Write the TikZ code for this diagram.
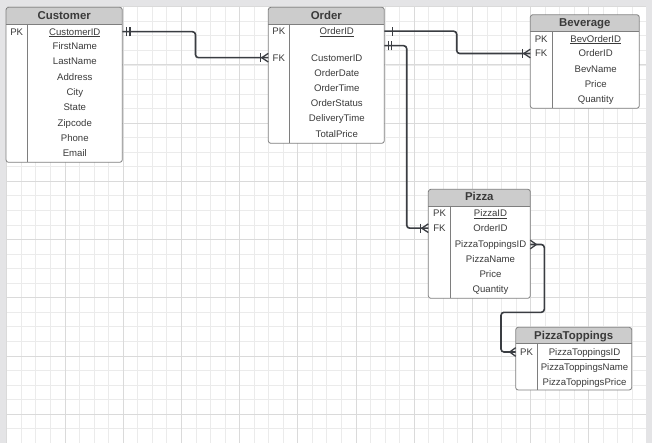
\documentclass[tikz,border=0pt]{standalone}
\usepackage{fontspec}
\setmainfont{Liberation Sans}
\definecolor{minorc}{HTML}{EBEBEB}
\definecolor{majorc}{HTML}{DADADA}
\definecolor{bandc}{HTML}{E4E4E6}
\definecolor{hdrc}{HTML}{CCCCCC}
\definecolor{bordc}{HTML}{7E7E7E}
\definecolor{txtc}{HTML}{3A3A3A}
\definecolor{linec}{HTML}{3A3D42}
\tikzset{
  tblbox/.style={draw=none, fill=white, inner sep=0pt, outer sep=0pt, anchor=north west},
  fld/.style={inner sep=0pt, text height=6.9pt, text depth=0pt, text=txtc, font=\fontsize{9.6}{11}\selectfont},
  ttl/.style={inner sep=0pt, text height=8.2pt, text depth=0pt, text=txtc, font=\bfseries\fontsize{11.4}{13}\selectfont},
  conn/.style={draw=linec, line width=1.6pt, rounded corners=3pt},
  ermark/.style={draw=linec, line width=1.3pt},
  tblline/.style={draw=bordc, line width=0.8pt},
  crowfoot/.pic={\draw[ermark] (-#1,0) -- (0,-4.3) (-#1,0) -- (0,4.3);},
  onebar/.pic={\draw[ermark] (-#1,-4.6) -- (-#1,4.6);}
}
% #1 name, #2 x1, #3 y1, #4 x2, #5 y2, #6 header bottom, #7 divider x, #8 width, #9 height
\newcommand\ertable[9]{%
  \node[tblbox, minimum width=#8pt, minimum height=#9pt] (#1) at (#2,#3) {};
  \begin{scope}
    \clip[rounded corners=2.5pt] (#2,#3) rectangle (#4,#5);
    \fill[hdrc] (#2,#3) rectangle (#4,#6);
  \end{scope}
  \draw[tblline] (#2,#6) -- (#4,#6) (#7,#6) -- (#7,#5);
  \draw[tblline, rounded corners=2.5pt] (#2,#3) rectangle (#4,#5);
}
\begin{document}
\begin{tikzpicture}[x=1pt,y=-1pt]
\useasboundingbox (0,0) rectangle (652,443);
% background and grid
\fill[bandc] (0,0) rectangle (652,443);
\fill[white] (6.7,6.7) rectangle (645.5,443);
\foreach \i in {0,...,43} {\draw[minorc, line width=0.7pt] ({6.7+\i*14.55},6.7) -- ({6.7+\i*14.55},443);}
\foreach \j in {0,...,30} {\draw[minorc, line width=0.7pt] (6.7,{6.7+\j*14.55}) -- (645.5,{6.7+\j*14.55});}
\foreach \i in {0,...,10} {\draw[majorc, line width=0.8pt] ({6.7+\i*58.2},6.7) -- ({6.7+\i*58.2},443);}
\foreach \j in {0,...,7} {\draw[majorc, line width=0.8pt] (6.7,{6.7+\j*58.2}) -- (645.5,{6.7+\j*58.2});}

% Customer
\ertable{cust}{6}{7.3}{122.3}{162.3}{24}{27.3}{116.3}{155}
\node[ttl] (custT) at (64.2,15.2) {Customer};
\node[fld] (cpk) at (16.7,31.7) {PK};
\node[fld] (cid) at (74.8,31.7) {\underline{CustomerID}};
\node[fld] (cfn) at (74.8,46.2) {FirstName};
\node[fld] (cln) at (74.8,61.5) {LastName};
\node[fld] (cad) at (74.8,76.8) {Address};
\node[fld] (cci) at (74.8,92) {City};
\node[fld] (cst) at (74.8,107.3) {State};
\node[fld] (czi) at (74.8,122.6) {Zipcode};
\node[fld] (cph) at (74.8,137.8) {Phone};
\node[fld] (cem) at (74.8,153) {Email};

% Order
\ertable{ord}{268.3}{7.3}{384.3}{143.3}{24}{289.3}{116}{136}
\node[ttl] (ordT) at (326.3,15.2) {Order};
\node[fld] (opk) at (278.8,31.2) {PK};
\node[fld] (oid) at (336.8,31.2) {\underline{OrderID}};
\coordinate (oblank) at (336.8,45.7);
\node[fld] (ofk) at (278.8,57.7) {FK};
\node[fld] (ocid) at (336.8,57.7) {CustomerID};
\node[fld] (odt) at (336.8,72.6) {OrderDate};
\node[fld] (otm) at (336.8,87.8) {OrderTime};
\node[fld] (ost) at (336.8,103.2) {OrderStatus};
\node[fld] (odl) at (336.8,118.5) {DeliveryTime};
\node[fld] (otp) at (336.8,133.6) {TotalPrice};

% Beverage
\ertable{bev}{530.3}{14.7}{639.3}{108.3}{31.7}{552}{109}{93.6}
\node[ttl] (bevT) at (584.8,22.4) {Beverage};
\node[fld] (bpk) at (541.2,38.7) {PK};
\node[fld] (bid) at (595.7,38.7) {\underline{BevOrderID}};
\node[fld] (bfk) at (541.2,53.5) {FK};
\node[fld] (bof) at (595.7,53.5) {OrderID};
\node[fld] (bnm) at (595.7,68.7) {BevName};
\node[fld] (bpr) at (595.7,83.7) {Price};
\node[fld] (bqt) at (595.7,98.7) {Quantity};

% Pizza
\ertable{piz}{428.3}{189.3}{530.3}{298.3}{206}{450.7}{102}{109}
\node[ttl] (pizT) at (479.3,196.8) {Pizza};
\node[fld] (ppk) at (439.5,212.9) {PK};
\node[fld] (pid) at (490.5,212.9) {\underline{PizzaID}};
\node[fld] (pfk) at (439.5,228.2) {FK};
\node[fld] (pof) at (490.5,228.2) {OrderID};
\node[fld] (ptid) at (490.5,244.5) {PizzaToppingsID};
\node[fld] (pnm) at (490.5,259.2) {PizzaName};
\node[fld] (ppr) at (490.5,273.9) {Price};
\node[fld] (pqt) at (490.5,288.8) {Quantity};

% PizzaToppings
\ertable{pt}{515.7}{327.3}{631.7}{390}{343.3}{537.3}{116}{62.7}
\node[ttl] (ptT) at (573.7,335) {PizzaToppings};
\node[fld] (tpk) at (526.5,352) {PK};
\node[fld] (tid) at (584.5,352) {\underline{PizzaToppingsID}};
\node[fld] (tnm) at (584.5,367.1) {PizzaToppingsName};
\node[fld] (tpr) at (584.5,381.8) {PizzaToppingsPrice};

% connectors
\draw[conn] (cust.east |- cid) -| (195.5,45) |- (ord.west |- ocid);
\pic[rotate=180] at (cust.east |- cid) {onebar=4.4};
\pic[rotate=180] at (cust.east |- cid) {onebar=7.7};
\pic at (ord.west |- ocid) {crowfoot=6.5};
\pic at (ord.west |- ocid) {onebar=7.8};

\draw[conn] (ord.east |- oid) -| (456.7,42) |- (bev.west |- bof);
\pic[rotate=180] at (ord.east |- oid) {onebar=8};
\pic at (bev.west |- bof) {crowfoot=6.5};
\pic at (bev.west |- bof) {onebar=8};

\draw[conn] (ord.east |- oblank) -| (406.7,150) |- (piz.west |- pof);
\pic[rotate=180] at (ord.east |- oblank) {onebar=4};
\pic[rotate=180] at (ord.east |- oblank) {onebar=7.4};
\pic at (piz.west |- pof) {crowfoot=6.5};
\pic at (piz.west |- pof) {onebar=8};

\draw[conn] (piz.east |- ptid) -| (544.3,280) |- (501,312.3) |- (pt.west |- tid);
\pic[rotate=180] at (piz.east |- ptid) {crowfoot=6};
\pic at (pt.west |- tid) {crowfoot=6};
\end{tikzpicture}
\end{document}
